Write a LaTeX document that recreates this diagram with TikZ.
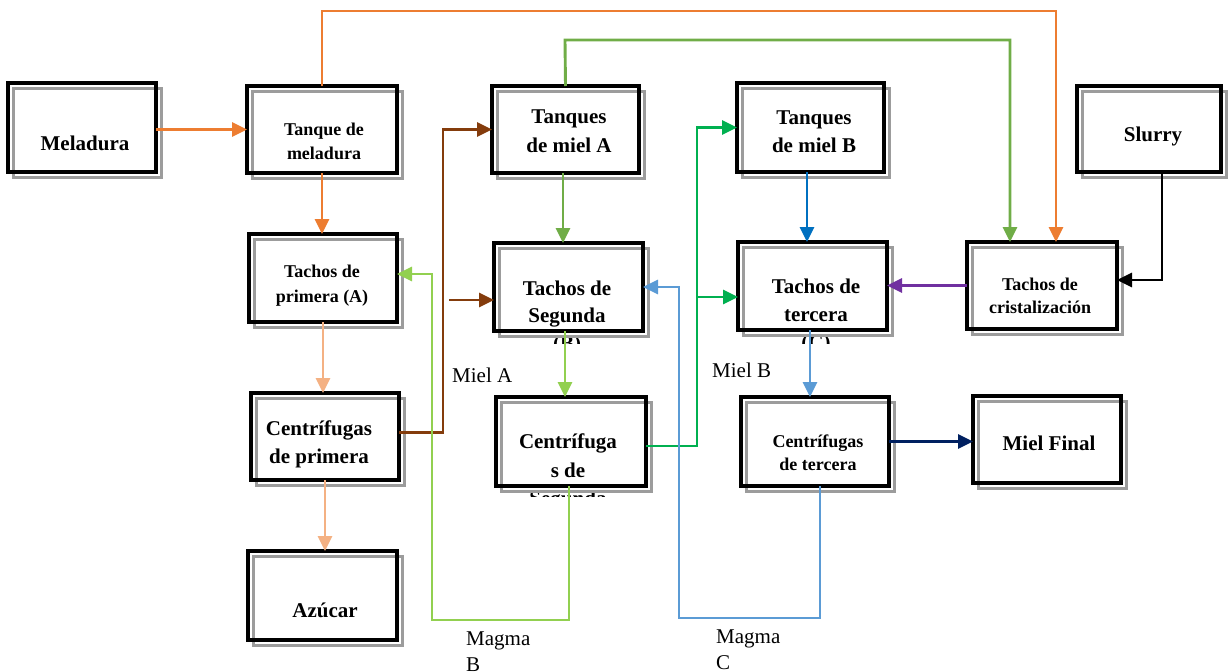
\documentclass[tikz,border=0pt]{standalone}
\usepackage{fontspec}
\setmainfont{Liberation Serif}
\usetikzlibrary{arrows.meta}
\definecolor{cOr}{HTML}{ED7D31}
\definecolor{cPe}{HTML}{F4B183}
\definecolor{cBr}{HTML}{843C0C}
\definecolor{cGr}{HTML}{70AD47}
\definecolor{cLg}{HTML}{92D050}
\definecolor{cGt}{HTML}{00B050}
\definecolor{cBl}{HTML}{0070C0}
\definecolor{cLb}{HTML}{5B9BD5}
\definecolor{cPu}{HTML}{7030A0}
\definecolor{cNv}{HTML}{002060}
\definecolor{cSh}{HTML}{9C9C9C}
\newcommand\mkbox[5]{%
  \draw[shadowline] ({#2+5.5},{#3+5.5}) rectangle ({#4+5.5},{#5+5.5});
  \node[blackbox, minimum width={(#4-#2)*1pt}, minimum height={(#5-#3)*1pt}] (#1) at ({(#2+#4)/2},{(#3+#5)/2}) {};}
\begin{document}
\begin{tikzpicture}[x=1pt,y=-1pt,
 blackbox/.style={draw=black, line width=3.2pt, inner sep=0pt, outer sep=0pt},
 shadowline/.style={draw=cSh, line width=3pt},
 bigtxt/.style={font=\fontsize{21}{25}\selectfont\bfseries, anchor=base, inner sep=0pt},
 smalltxt/.style={font=\fontsize{18}{22}\selectfont\bfseries, anchor=base, inner sep=0pt},
 lbl/.style={font=\fontsize{21}{25}\selectfont, anchor=base west, inner sep=0pt},
 conn/.style={line width=2.9pt, -{Triangle[length=15pt,width=14pt]}},
]
\useasboundingbox (0,0) rectangle (1232,672);

% texts
\node[bigtxt] (t-mel) at (85,150) {Meladura};
\node[smalltxt] (t-tm1) at (324,135) {Tanque de};
\node[smalltxt] (t-tm2) at (324,159) {meladura};
\node[bigtxt] (t-ta1) at (569,123) {Tanques};
\node[bigtxt] (t-ta2) at (569,152) {de miel A};
\node[bigtxt] (t-tb1) at (814,124) {Tanques};
\node[bigtxt] (t-tb2) at (814,152) {de miel B};
\node[bigtxt] (t-sl) at (1153,141) {Slurry};
\node[smalltxt] (t-pa1) at (322,277) {Tachos de};
\node[smalltxt] (t-pa2) at (322,302) {primera (A)};
\node[bigtxt] (t-sg1) at (567,295) {Tachos de};
\node[bigtxt] (t-sg2) at (567,322) {Segunda};
\begin{scope}
  \clip (494,331) rectangle (643,343);
  \node[bigtxt] (t-sg3) at (567,350) {(B)};
\end{scope}
\node[bigtxt] (t-te1) at (816,293) {Tachos de};
\node[bigtxt] (t-te2) at (816,321) {tercera};
\begin{scope}
  \clip (738,330) rectangle (887,343);
  \node[bigtxt] (t-te3) at (816,349) {(C)};
\end{scope}
\node[smalltxt] (t-cr1) at (1040,290) {Tachos de};
\node[smalltxt] (t-cr2) at (1040,313) {cristalización};
\node[bigtxt] (t-ca1) at (319,435) {Centrífugas};
\node[bigtxt] (t-ca2) at (319,463) {de primera};
\node[bigtxt] (t-cb1) at (568,448) {Centrífuga};
\node[bigtxt] (t-cb2) at (568,477) {s de};
\begin{scope}
  \clip (496,486) rectangle (646,496);
  \node[bigtxt] (t-cb3) at (568,505) {Segunda};
\end{scope}
\node[smalltxt] (t-cc1) at (818,447) {Centrífugas};
\node[smalltxt] (t-cc2) at (818,470) {de tercera};
\node[bigtxt] (t-mf) at (1049,450) {Miel Final};
\node[bigtxt] (t-az) at (325,617) {Azúcar};

% boxes
\mkbox{meladura}{8}{83}{156}{172}
\mkbox{tanquemel}{247}{86}{397}{173}
\mkbox{tanquesA}{492}{86}{639}{173}
\mkbox{tanquesB}{737}{83}{884}{172}
\mkbox{slurry}{1077}{86}{1221}{172}
\mkbox{tachosA}{249}{234}{397}{322}
\mkbox{segunda}{494}{243}{643}{331}
\mkbox{tercera}{738}{242}{887}{330}
\mkbox{cristal}{967}{242}{1117}{329}
\mkbox{centA}{251}{393}{399}{480}
\mkbox{centB}{496}{397}{646}{486}
\mkbox{centC}{741}{397}{889}{486}
\mkbox{mielF}{973}{396}{1121}{483}
\mkbox{azucar}{248}{551}{397}{640}

% labels
\node[lbl] (l-ma) at (452,382) {Miel A};
\node[lbl] (l-mb) at (712,377) {Miel B};
\node[lbl] (l-gb1) at (466,645) {Magma};
\node[lbl] (l-gb2) at (466,671) {B};
\node[lbl] (l-gc1) at (716,643) {Magma};
\node[lbl] (l-gc2) at (716,669) {C};

% coordinates
\coordinate (oTop) at (322,11);
\coordinate (gTop) at (565,40);
\coordinate (bJ) at (443,129.5);
\coordinate (bB) at (449,300);
\coordinate (gJ) at (697,127.5);
\coordinate (gB) at (697,297);
\coordinate (mB) at (432,620);
\coordinate (mC) at (679,618);

% connectors
\draw[conn,cOr] (meladura.east |- tanquemel.west) -- (tanquemel.west);
\draw[conn,cOr] (tanquemel.north) -- (oTop) -| ([xshift=14pt]cristal.north);
\draw[conn,cOr] (tanquemel.south) -- (tanquemel.south |- tachosA.north);
\draw[conn,cPe] (tachosA.south) -- (tachosA.south |- centA.north);
\draw[conn,cPe] (centA.south) -- (centA.south |- azucar.north);
\draw[conn,cBr] ([yshift=4pt]centA.east) -| (bJ) -- (tanquesA.west);
\draw[conn,cBr] (bB) -- (bB -| segunda.west);
\draw[conn,cGr] ([xshift=-2.5pt]tanquesA.south) -- ([xshift=-2.5pt]tanquesA.south |- segunda.north);
\draw[conn,cGr] (tanquesA.north) -- (gTop) -| ([xshift=-32pt]cristal.north);
\draw[conn,cLg] ([xshift=-3.5pt]segunda.south) -- ([xshift=-3.5pt]segunda.south |- centB.north);
\draw[conn,cLg] ([xshift=-2pt]centB.south) |- (mB) |- ([yshift=4pt]tachosA.east);
\draw[conn,cGt] ([yshift=-4.5pt]centB.east) -| (gJ) -- (tanquesB.west);
\draw[conn,cGt] (gB) -- (gB -| tercera.west);
\draw[conn,cBl] ([xshift=-3.5pt]tanquesB.south) -- ([xshift=-3.5pt]tanquesB.south |- tercera.north);
\draw[conn,cLb] ([xshift=-2.5pt]tercera.south) -- ([xshift=-2.5pt]tercera.south |- centC.north);
\draw[conn,cLb] ([xshift=5pt]centC.south) |- (mC) |- (segunda.east);
\draw[conn,cPu] (cristal.west) -- (cristal.west -| tercera.east);
\draw[conn,black] ([xshift=13pt]slurry.south) |- ([yshift=5.5pt]cristal.east);
\draw[conn,cNv] (centC.east) -- (centC.east -| mielF.west);
\end{tikzpicture}
\end{document}
